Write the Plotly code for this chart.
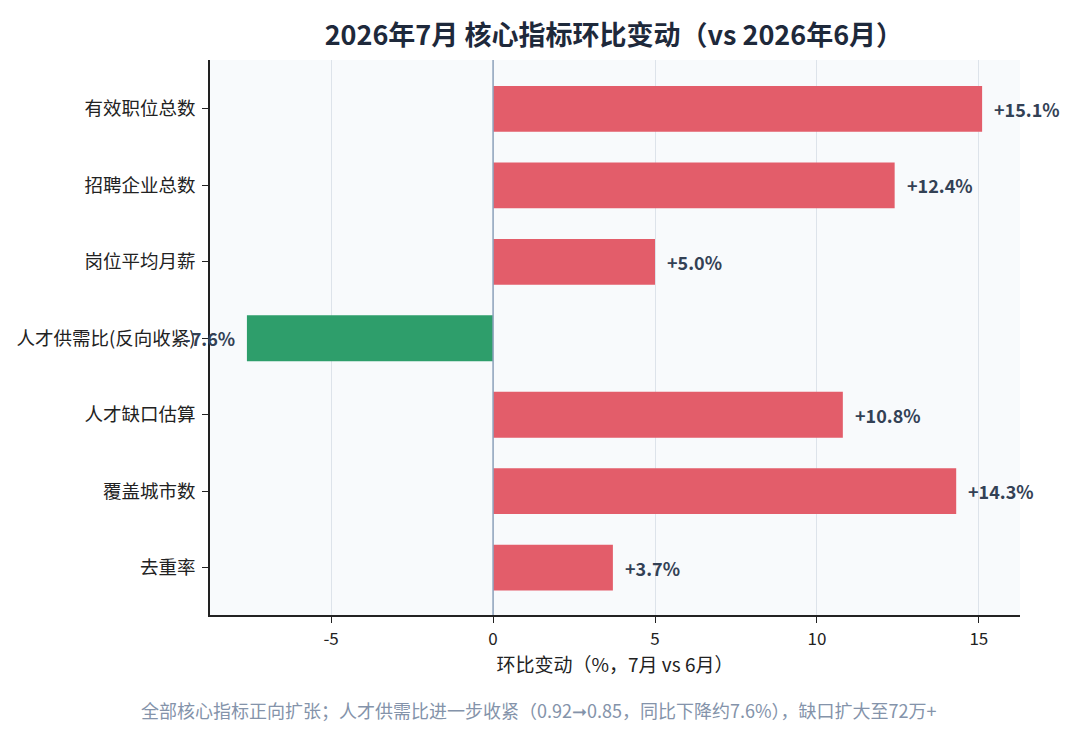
import plotly.graph_objects as go

categories = ["有效职位总数", "招聘企业总数", "岗位平均月薪", "人才供需比(反向收紧)", "人才缺口估算", "覆盖城市数", "去重率"]
values = [15.1, 12.4, 5.0, -7.6, 10.8, 14.3, 3.7]
labels = ["+15.1%", "+12.4%", "+5.0%", "-7.6%", "+10.8%", "+14.3%", "+3.7%"]
x_ticks = [-5, 0, 5, 10, 15]

RED = "#e35d6a"
GREEN = "#2e9e6b"
FONT = "Noto Sans CJK SC"

colors = [RED if v >= 0 else GREEN for v in values]

fig = go.Figure()
fig.add_trace(go.Bar(
    x=values, y=categories, orientation="h",
    marker=dict(color=colors, line=dict(width=0)),
    width=0.6, hoverinfo="skip",
))

for v, c, t in zip(values, categories, labels):
    fig.add_annotation(
        x=v, y=c, text=f"<b>{t}</b>", showarrow=False,
        xanchor="left" if v >= 0 else "right",
        xshift=10 if v >= 0 else -10,
        font=dict(family=FONT, size=18, color="#334155"),
    )

fig.add_vline(x=0, line=dict(color="#8fa3bd", width=1.5))

fig.add_annotation(
    text="全部核心指标正向扩张；人才供需比进一步收紧（0.92➞0.85，同比下降约7.6%），缺口扩大至72万+",
    xref="paper", yref="paper", x=0.405, y=-0.171, xanchor="center", yanchor="middle",
    showarrow=False, font=dict(family=FONT, size=18, color="#8493aa"),
)

fig.update_layout(
    width=1080, height=735,
    margin=dict(l=202, r=68, t=52, b=128),
    paper_bgcolor="white", plot_bgcolor="#f8fafc",
    showlegend=False,
    font=dict(family=FONT, color="#222222"),
    title=dict(
        text="<b>2026年7月 核心指标环比变动（vs 2026年6月）</b>",
        x=0.561, xanchor="center", y=0.962, yanchor="middle",
        font=dict(family=FONT, size=27, color="#1e293b"),
    ),
    xaxis=dict(
        range=[-8.74, 16.27], tickvals=x_ticks, ticktext=[str(t) for t in x_ticks],
        showgrid=True, gridcolor="#dde3ea", gridwidth=1, zeroline=False,
        showline=True, linecolor="#222222", linewidth=1.5,
        ticks="outside", ticklen=6, tickcolor="#222222",
        ticklabelstandoff=2, automargin=False,
        tickfont=dict(family=FONT, size=17, color="#222222"),
        title=dict(text="环比变动（%，7月 vs 6月）", font=dict(family=FONT, size=19, color="#222222"), standoff=10),
    ),
    yaxis=dict(
        categoryorder="array", categoryarray=categories,
        range=[6.62, -0.64],
        showgrid=False, zeroline=False,
        showline=True, linecolor="#222222", linewidth=1.5,
        ticks="outside", ticklen=6, tickcolor="#222222",
        ticklabelstandoff=3, automargin=False,
        tickfont=dict(family=FONT, size=18.5, color="#222222"),
    ),
)

fig.write_html("out.html")
